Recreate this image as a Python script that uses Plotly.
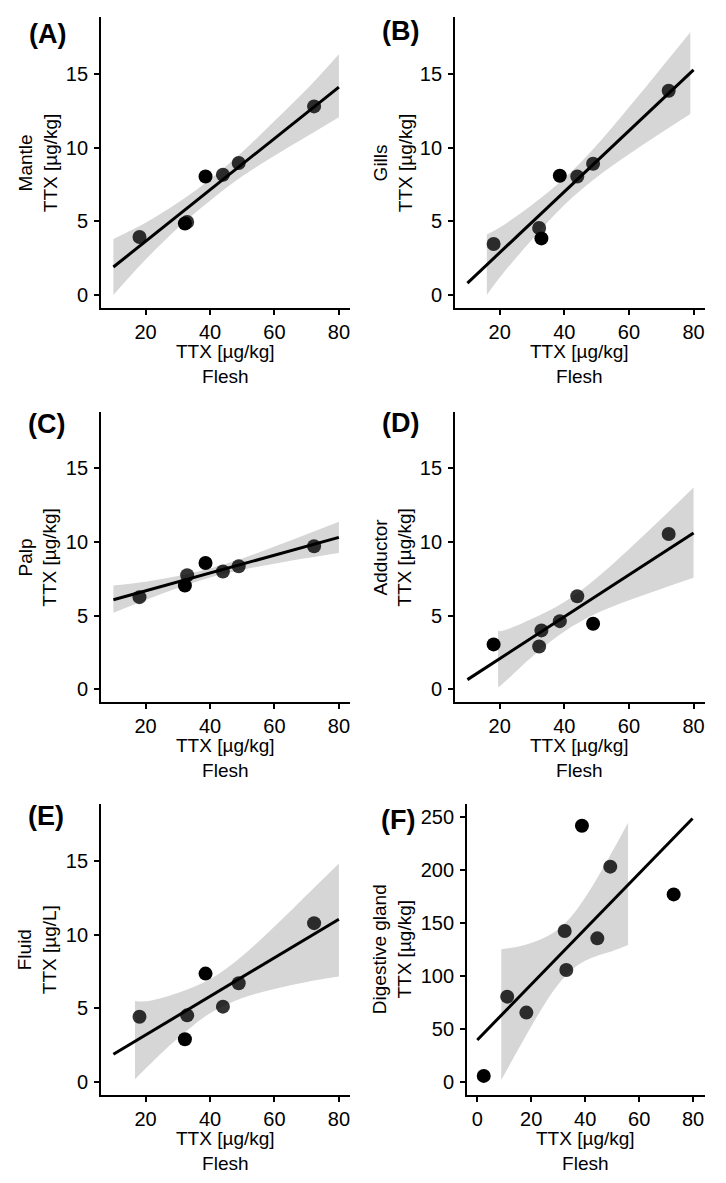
import plotly.graph_objects as go

# the page body keeps its default 8px margin, so the figure is drawn 8px smaller
# and every position below is given in reference pixels, shifted back by PAD
W, H = 726, 1183
PAD = 8
FW, FH = W - PAD, H - PAD

# flesh TTX, shared by panels A-E (ug/kg)
FLESH = [18.1, 32.2, 32.9, 38.6, 44.0, 48.9, 72.3]

MANTLE = [3.93, 4.85, 4.95, 8.04, 8.15, 8.95, 12.79]
MANTLE_OUT = [0, 1, 0, 1, 0, 0, 0]
GILLS = [3.46, 4.54, 3.84, 8.09, 8.04, 8.90, 13.85]
GILLS_OUT = [0, 0, 1, 1, 0, 0, 0]
PALP = [6.26, 7.05, 7.75, 8.58, 8.00, 8.36, 9.71]
PALP_OUT = [0, 1, 0, 1, 0, 0, 0]
ADDUCTOR = [3.05, 2.91, 4.00, 4.63, 6.32, 4.45, 10.55]
ADDUCTOR_OUT = [1, 0, 0, 0, 0, 1, 0]
FLUID = [4.43, 2.90, 4.52, 7.35, 5.11, 6.70, 10.77]
FLUID_OUT = [0, 1, 0, 1, 0, 0, 0]

# panel F has its own sample set
FLESH_F = [2.4, 11.1, 18.2, 32.4, 33.0, 38.8, 44.5, 49.3, 72.8]
DIGESTIVE = [6.0, 80.6, 65.6, 142.4, 105.7, 241.5, 135.5, 203.0, 176.9]
DIGESTIVE_OUT = [1, 0, 0, 0, 0, 1, 0, 0, 1]

# fitted lines (end points)
FIT_X = [10, 80]
MANTLE_FIT = [1.90, 14.10]
GILLS_FIT = [0.81, 15.27]
PALP_FIT = [6.08, 10.32]
ADDUCTOR_FIT = [0.66, 10.62]
FLUID_FIT = [1.88, 11.04]
FIT_X_F = [0, 79.8]
DIGESTIVE_FIT = [39.8, 248.4]

# confidence bands
BAND_X = [10, 20, 30, 40, 50, 60, 70, 80]
MANTLE_LO = [0.0, 2.40, 4.55, 6.40, 8.05, 9.45, 10.75, 12.06]
MANTLE_HI = [3.80, 4.90, 6.25, 7.85, 9.70, 11.80, 13.95, 16.33]
PALP_LO = [5.20, 6.07, 6.88, 7.60, 8.12, 8.53, 8.91, 9.26]
PALP_HI = [7.05, 7.31, 7.70, 8.20, 8.88, 9.69, 10.53, 11.38]

GILLS_BX = [16, 20, 30, 40, 50, 60, 70, 79]
GILLS_LO = [0.0, 1.18, 3.76, 6.11, 7.98, 9.55, 11.00, 12.27]
GILLS_HI = [4.10, 4.58, 6.12, 7.91, 10.16, 12.73, 15.40, 17.82]

ADDUCTOR_BX = [19.5, 20, 30, 40, 50, 60, 70, 80]
ADDUCTOR_LO = [0.16, 0.21, 2.22, 3.93, 5.16, 6.05, 6.82, 7.57]
ADDUCTOR_HI = [4.04, 3.95, 4.80, 5.93, 7.56, 9.51, 11.58, 13.71]

FLUID_BX = [16.7, 20, 30, 40, 50, 60, 70, 80]
FLUID_LO = [0.18, 0.91, 2.96, 4.66, 5.69, 6.30, 6.78, 7.15]
FLUID_HI = [5.50, 5.47, 6.04, 6.96, 8.55, 10.54, 12.68, 14.82]

DIGESTIVE_BX = [8.9, 15, 20, 25, 30, 35, 40, 45, 50, 55.9]
DIGESTIVE_LO = [2.2, 30.1, 52.6, 73.8, 92.0, 105.7, 114.3, 119.6, 123.4, 129.2]
DIGESTIVE_HI = [125.2, 127.7, 131.2, 136.2, 144.0, 156.5, 173.9, 194.6, 217.0, 244.4]

FONT = "Arial, Liberation Sans, sans-serif"
GREY_PT = "rgba(0,0,0,0.8)"
BAND = "rgb(214,214,214)"


def px(x):
    return (x - PAD) / FW


def py(y):
    return 1 - (y - PAD) / FH


def add_panel(fig, n, x, y, out, fit_x, fit_y, bx, lo, hi):
    xa = "x" if n == 1 else "x%d" % n
    ya = "y" if n == 1 else "y%d" % n
    fig.add_trace(go.Scatter(x=bx, y=lo, mode="lines", line=dict(width=0, shape="spline"),
                             xaxis=xa, yaxis=ya, showlegend=False, hoverinfo="skip"))
    fig.add_trace(go.Scatter(x=bx, y=hi, mode="lines", line=dict(width=0, shape="spline"),
                             fill="tonexty", fillcolor=BAND,
                             xaxis=xa, yaxis=ya, showlegend=False, hoverinfo="skip"))
    # normal points first, flagged (black) points on top
    for flag, col in ((0, GREY_PT), (1, "#000000")):
        xs = [a for a, f in zip(x, out) if f == flag]
        ys = [b for b, f in zip(y, out) if f == flag]
        fig.add_trace(go.Scatter(x=xs, y=ys, mode="markers",
                                 marker=dict(size=14, color=col, line=dict(width=0)),
                                 xaxis=xa, yaxis=ya, showlegend=False))
    fig.add_trace(go.Scatter(x=fit_x, y=fit_y, mode="lines", line=dict(color="black", width=3),
                             xaxis=xa, yaxis=ya, showlegend=False))


fig = go.Figure()
add_panel(fig, 1, FLESH, MANTLE, MANTLE_OUT, FIT_X, MANTLE_FIT, BAND_X, MANTLE_LO, MANTLE_HI)
add_panel(fig, 2, FLESH, GILLS, GILLS_OUT, FIT_X, GILLS_FIT, GILLS_BX, GILLS_LO, GILLS_HI)
add_panel(fig, 3, FLESH, PALP, PALP_OUT, FIT_X, PALP_FIT, BAND_X, PALP_LO, PALP_HI)
add_panel(fig, 4, FLESH, ADDUCTOR, ADDUCTOR_OUT, FIT_X, ADDUCTOR_FIT, ADDUCTOR_BX, ADDUCTOR_LO, ADDUCTOR_HI)
add_panel(fig, 5, FLESH, FLUID, FLUID_OUT, FIT_X, FLUID_FIT, FLUID_BX, FLUID_LO, FLUID_HI)
add_panel(fig, 6, FLESH_F, DIGESTIVE, DIGESTIVE_OUT, FIT_X_F, DIGESTIVE_FIT, DIGESTIVE_BX, DIGESTIVE_LO, DIGESTIVE_HI)

# panel boxes in reference pixels: left, right, top, bottom
boxes = {
    1: (101, 350, 17, 308),
    2: (455, 704.7, 17, 308),
    3: (101, 350, 411.7, 702.3),
    4: (455, 704.7, 411.7, 702.3),
    5: (101, 350, 804, 1095),
    6: (467, 704.7, 804, 1095),
}
names = {1: "Mantle", 2: "Gills", 3: "Palp", 4: "Adductor", 5: "Fluid", 6: "Digestive gland"}
units = {5: "TTX [µg/L]"}
labels = {1: "(A)", 2: "(B)", 3: "(C)", 4: "(D)", 5: "(E)", 6: "(F)"}
label_pos = {1: (47, 34), 2: (401, 31), 3: (46, 424), 4: (400, 423), 5: (46, 816), 6: (398, 820)}

axis_style = dict(showline=True, linecolor="black", linewidth=1.8, ticks="outside", ticklen=5,
                  tickwidth=1.5, tickcolor="black", showgrid=False, zeroline=False,
                  tickfont=dict(family=FONT, size=20, color="black"))
title_font = dict(family=FONT, size=19, color="black")

layout = dict(width=FW, height=FH, margin=dict(l=0, r=0, t=0, b=0),
              plot_bgcolor="white", paper_bgcolor="white", showlegend=False,
              font=dict(family=FONT, color="black"))
annotations = []
for n, (l, r, t, b) in boxes.items():
    sx = "" if n == 1 else str(n)
    if n == 6:
        xr, yr = [-3.8, 84.3], [-12, 262]
        xt, yt = [0, 20, 40, 60, 80], [0, 50, 100, 150, 200, 250]
    else:
        xr, yr = [6.15, 83.45], [-0.88, 18.85]
        xt, yt = [20, 40, 60, 80], [0, 5, 10, 15]
    layout["xaxis" + sx] = dict(domain=[px(l), px(r)], anchor="y" + sx, range=xr, tickvals=xt,
                                ticklabelstandoff=0, **axis_style)
    layout["yaxis" + sx] = dict(domain=[py(b), py(t)], anchor="x" + sx, range=yr, tickvals=yt,
                                ticklabelstandoff=2, **axis_style)

    cx, cy = (l + r) / 2, (t + b) / 2
    ty = 37.7 if l < 300 else 392.7
    annotations.append(dict(text=names[n] + "<br>" + units.get(n, "TTX [µg/kg]"),
                            x=px(ty), y=py(cy), xref="paper", yref="paper",
                            textangle=-90, showarrow=False, xanchor="center", yanchor="middle",
                            font=title_font))
    annotations.append(dict(text="TTX [µg/kg]<br>Flesh", x=px(cx), y=py(b + 55.5),
                            xref="paper", yref="paper", showarrow=False,
                            xanchor="center", yanchor="middle", font=title_font))
    lx, ly = label_pos[n]
    annotations.append(dict(text="<b>%s</b>" % labels[n], x=px(lx), y=py(ly), xref="paper", yref="paper",
                            showarrow=False, xanchor="center", yanchor="middle",
                            font=dict(family=FONT, size=27, color="black")))

layout["annotations"] = annotations
fig.update_layout(**layout)
fig.write_html("out.html")
